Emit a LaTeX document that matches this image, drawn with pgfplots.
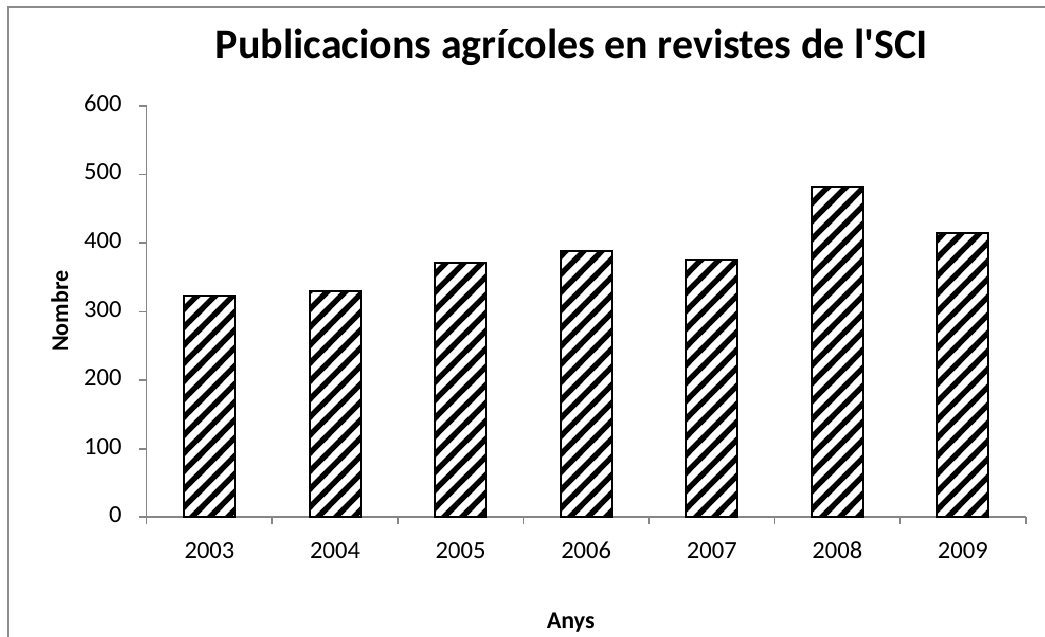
\documentclass[border=0pt]{standalone}
\usepackage{pgfplots}
\pgfplotsset{compat=1.18}
\usetikzlibrary{patterns.meta}
\usepackage{fontspec}
\setmainfont{Carlito}
\definecolor{axgray}{HTML}{868686}
\definecolor{framegray}{HTML}{8C8C8C}
\tikzdeclarepattern{
  name=xlstripes,
  type=uncolored,
  bottom left={(0pt,0pt)},
  top right={(9pt,9pt)},
  tile size={(9pt,9pt)},
  code={
    \pgfsetlinewidth{2.8pt}
    \pgfpathmoveto{\pgfpoint{-1pt}{-1pt}}\pgfpathlineto{\pgfpoint{10pt}{10pt}}
    \pgfpathmoveto{\pgfpoint{-2pt}{7pt}}\pgfpathlineto{\pgfpoint{2pt}{11pt}}
    \pgfpathmoveto{\pgfpoint{7pt}{-2pt}}\pgfpathlineto{\pgfpoint{11pt}{2pt}}
    \pgfusepath{stroke}
  }
}
\begin{document}
\begin{tikzpicture}[x=0.5pt,y=0.5pt]
\begin{axis}[
  at={(0,0)}, anchor=south west,
  scale only axis, width=439.5pt, height=205.8pt,
  xmin=-0.5, xmax=6.5, ymin=0, ymax=600,
  axis lines=left,
  axis line style={-, axgray, line width=0.8pt},
  xtick={0,1,2,3,4,5,6},
  xticklabels={2003,2004,2005,2006,2007,2008,2009},
  major x tick style={draw=none},
  minor xtick={-0.5,0.5,1.5,2.5,3.5,4.5,5.5,6.5},
  ytick={0,100,200,300,400,500,600},
  tick align=outside,
  major tick length=4pt, minor tick length=3.5pt,
  every tick/.style={axgray, line width=0.8pt},
  minor x tick style={axgray, line width=0.8pt},
  /pgf/number format/assume math mode=true,
  typeset ticklabels with strut,
  tick label style={font=\fontsize{12.3}{14}\selectfont, black},
  xticklabel style={anchor=north, yshift=-3.5pt},
  yticklabel style={anchor=east, xshift=-5pt},
  title={Publicacions agrícoles en revistes de l\textquotesingle SCI},
  title style={font=\fontsize{21}{24}\selectfont\bfseries, at={(axis description cs:0.4835,1.113)}, anchor=center},
  xlabel={Anys},
  xlabel style={font=\fontsize{12}{14}\selectfont\bfseries, at={(axis description cs:0.4824,-0.255)}, anchor=center},
  ylabel={Nombre},
  ylabel style={font=\fontsize{12}{14}\selectfont\bfseries, at={(axis description cs:-0.099,0.501)}, anchor=center},
  clip=false,
]
\addplot[ybar, bar width=0.406, draw=black, line width=1pt,
  pattern=xlstripes, pattern color=black]
  coordinates {(0,322) (1,330) (2,371) (3,388) (4,375) (5,481) (6,415)};
\end{axis}
\pgfresetboundingbox
\begin{scope}[shift={(-146.7,-119.7)}]
\path[use as bounding box] (0,0) rectangle (1045,637);
\draw[framegray, line width=1.1pt] (8,-10) -- (8,630) -- (1060,630);
\end{scope}
\end{tikzpicture}
\end{document}
